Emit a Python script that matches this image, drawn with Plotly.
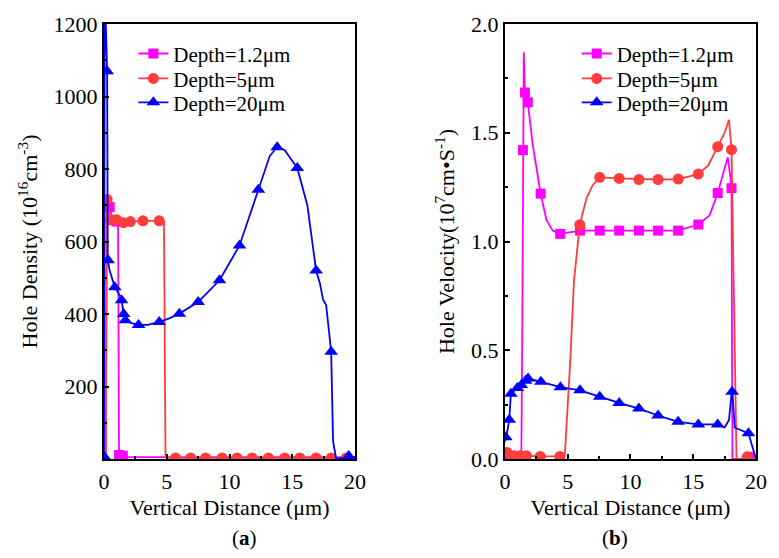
import plotly.graph_objects as go
from plotly.subplots import make_subplots

FONT = "Liberation Serif"
PINK = "#FF00FF"
RED = "#FF3B3B"
BLUE = "#0000FF"

series_names = ["Depth=1.2\u03bcm", "Depth=5\u03bcm", "Depth=20\u03bcm"]

# ---------------- (a) Hole density ----------------
dens_pink_line_x = [0.15, 0.22, 0.3, 0.45, 0.7, 1.0, 1.12, 1.2, 1.3, 1.6, 3, 20]
dens_pink_line_y = [5, 705, 698, 690, 665, 655, 652, 10, 9, 6, 5, 5]
dens_pink_mark_x = [0.45, 1.0, 1.2, 1.5]
dens_pink_mark_y = [695, 655, 11, 9]

dens_red_line_x = [0.15, 0.22, 0.3, 0.5, 1.0, 1.55, 2.1, 3.1, 4.4, 4.78, 4.9, 5.2, 20]
dens_red_line_y = [5, 720, 690, 662, 660, 652, 655, 657, 657, 656, 5, 3, 3]
dens_red_mark_x = [0.25, 0.5, 1.0, 1.55, 2.1, 3.1, 4.4, 5.7, 6.9, 8.1, 9.4, 10.6,
                   11.8, 13.1, 14.4, 15.6, 16.9, 18.1, 19.3]
dens_red_mark_y = [716, 660, 660, 652, 655, 657, 657, 3, 3, 3, 3, 3,
                   3, 3, 3, 3, 3, 3, 3]

dens_blue_line_x = [0, 0.06, 0.1, 0.25, 0.3, 0.45, 0.86, 1.2, 1.4, 1.57, 1.7, 2.2,
                    2.75, 3.5, 4.4, 5.2, 6.0, 7.5, 9.2, 10.8, 12.3, 13.2, 13.8,
                    14.4, 15.4, 16.2, 16.9, 17.2, 17.45, 17.7, 18.1, 18.25, 18.5,
                    19.5, 20]
dens_blue_line_y = [5, 1300, 1250, 1070, 548, 520, 474, 455, 438, 400, 383, 375,
                    370, 370, 378, 388, 401, 433, 493, 589, 743, 835, 862,
                    852, 803, 700, 520, 485, 440, 425, 296, 49, 0,
                    5, 5]
dens_blue_mark_x = [0.05, 0.25, 0.33, 0.86, 1.4, 1.57, 1.7, 2.75, 4.4, 6.0, 7.5,
                    9.2, 10.8, 12.3, 13.8, 15.4, 16.9, 18.1, 19.5]
dens_blue_mark_y = [5, 1070, 548, 474, 438, 400, 383, 370, 378, 401, 433,
                    493, 589, 743, 860, 803, 520, 296, 8]

# ---------------- (b) Hole velocity ----------------
vel_pink_line_x = [0, 1.3, 1.37, 1.43, 1.5, 1.59, 1.82, 2.2, 2.84, 3.3, 3.8, 4.4,
                   6.0, 9.1, 12.2, 13.8, 15.4, 16.3, 16.95, 17.4, 17.75, 17.95,
                   18.05, 18.12, 20]
vel_pink_line_y = [0, 0, 0.5, 1.42, 1.87, 1.685, 1.64, 1.45, 1.22, 1.10, 1.05, 1.035,
                   1.05, 1.05, 1.05, 1.05, 1.078, 1.12, 1.223, 1.32, 1.387, 1.30,
                   1.245, 0, 0]
vel_pink_mark_x = [1.43, 1.59, 1.82, 2.84, 4.4, 5.98, 7.55, 9.1, 10.67, 12.2, 13.8,
                   15.4, 16.95, 18.05, 19.5]
vel_pink_mark_y = [1.42, 1.685, 1.64, 1.22, 1.035, 1.05, 1.05, 1.05, 1.05, 1.05, 1.05,
                   1.078, 1.223, 1.245, 0.01]

vel_red_line_x = [0, 0.5, 1.0, 2.0, 3.0, 4.4, 4.76, 5.2, 5.5, 5.96, 6.5, 7.0, 7.55,
                  9.1, 12.2, 13.8, 15.4, 16.2, 16.95, 17.5, 17.85, 18.05, 18.45, 20]
vel_red_line_y = [0.03, 0.02, 0.015, 0.012, 0.012, 0.012, 0.01, 0.45, 0.82, 1.077,
                  1.2, 1.26, 1.295, 1.29, 1.285, 1.287, 1.31, 1.35, 1.436, 1.50,
                  1.56, 1.422, 0, 0]
vel_red_mark_x = [0.15, 0.7, 1.2, 1.7, 2.8, 4.37, 5.96, 7.55, 9.1, 10.67, 12.2, 13.8,
                  15.4, 16.95, 18.05, 19.3]
vel_red_mark_y = [0.03, 0.015, 0.015, 0.015, 0.012, 0.012, 1.077, 1.295, 1.29, 1.285,
                  1.285, 1.287, 1.31, 1.436, 1.422, 0.01]

vel_blue_line_x = [0, 0.1, 0.34, 0.42, 0.47, 0.98, 1.3, 1.64, 1.84, 2.86, 4.42, 5.98,
                   7.55, 9.1, 10.67, 12.2, 13.8, 15.4, 16.95, 17.5, 17.85, 18.1,
                   18.3, 19.0, 19.4, 20]
vel_blue_line_y = [0.08, 0.10, 0.18, 0.26, 0.30, 0.326, 0.34, 0.36, 0.37, 0.355, 0.33,
                   0.316, 0.286, 0.258, 0.232, 0.20, 0.171, 0.159, 0.159, 0.145,
                   0.18, 0.33, 0.145, 0.13, 0.118, 0]
vel_blue_mark_x = [0.07, 0.34, 0.47, 0.98, 1.3, 1.64, 1.84, 2.86, 4.42, 5.98, 7.55,
                   9.1, 10.67, 12.2, 13.8, 15.4, 16.95, 18.1, 19.4]
vel_blue_mark_y = [0.10, 0.18, 0.30, 0.326, 0.34, 0.36, 0.37, 0.355, 0.33, 0.316,
                   0.286, 0.258, 0.232, 0.20, 0.171, 0.159, 0.159, 0.309, 0.118]

x_ticks = [0, 5, 10, 15, 20]
dens_ticks = [200, 400, 600, 800, 1000, 1200]
vel_ticks = [0.0, 0.5, 1.0, 1.5, 2.0]
vel_tick_text = ["0.0", "0.5", "1.0", "1.5", "2.0"]

colors = [PINK, RED, BLUE]
symbols = ["square", "circle", "triangle-up"]
msizes = [10, 11, 12]

fig = make_subplots(rows=1, cols=2, horizontal_spacing=0.23)

panels = [
    (1, ["legend", "legend2", "legend3"], [
        (dens_pink_line_x, dens_pink_line_y, dens_pink_mark_x, dens_pink_mark_y),
        (dens_red_line_x, dens_red_line_y, dens_red_mark_x, dens_red_mark_y),
        (dens_blue_line_x, dens_blue_line_y, dens_blue_mark_x, dens_blue_mark_y),
    ]),
    (2, ["legend4", "legend5", "legend6"], [
        (vel_pink_line_x, vel_pink_line_y, vel_pink_mark_x, vel_pink_mark_y),
        (vel_red_line_x, vel_red_line_y, vel_red_mark_x, vel_red_mark_y),
        (vel_blue_line_x, vel_blue_line_y, vel_blue_mark_x, vel_blue_mark_y),
    ]),
]

for col, legs, data in panels:
    for i, (lx, ly, mx, my) in enumerate(data):
        fig.add_trace(go.Scatter(x=lx, y=ly, mode="lines",
                                 line=dict(color=colors[i], width=1.8),
                                 showlegend=False, hoverinfo="skip"),
                      row=1, col=col)
        fig.add_trace(go.Scatter(x=mx, y=my, mode="markers",
                                 marker=dict(color=colors[i], symbol=symbols[i],
                                             size=msizes[i], line=dict(width=0)),
                                 showlegend=False),
                      row=1, col=col)
    for i in range(3):
        fig.add_trace(go.Scatter(x=[None], y=[None], mode="lines+markers",
                                 name=series_names[i], legend=legs[i],
                                 line=dict(color=colors[i], width=1.8),
                                 marker=dict(color=colors[i], symbol=symbols[i],
                                             size=msizes[i], line=dict(width=0))),
                      row=1, col=col)

axis_common = dict(showline=True, linecolor="black", linewidth=2, mirror=True,
                   ticks="inside", ticklen=5, tickwidth=1.5, tickcolor="black",
                   showgrid=False, zeroline=False,
                   tickfont=dict(family=FONT, size=22, color="black"),
                   minor=dict(ticks="inside", ticklen=3, tickwidth=1.5,
                              tickcolor="black"))

for col in (1, 2):
    fig.update_xaxes(range=[0, 20], tickvals=x_ticks, ticklabelstandoff=2,
                     title=dict(text="Vertical Distance (\u03bcm)",
                                font=dict(family=FONT, size=22, color="black"),
                                standoff=6),
                     minor_dtick=2.5, row=1, col=col, **axis_common)

fig.update_yaxes(range=[0, 1200], tickvals=dens_ticks, minor_dtick=100,
                 title=dict(text="Hole Density (10<sup>16</sup>cm<sup>-3</sup>)",
                            font=dict(family=FONT, size=22, color="black"),
                            standoff=10),
                 row=1, col=1, **axis_common)
fig.update_yaxes(range=[0, 2.0], tickvals=vel_ticks, ticktext=vel_tick_text,
                 minor_dtick=0.25,
                 title=dict(text="Hole Velocity(10<sup>7</sup>cm\u2022S<sup>-1</sup>)",
                            font=dict(family=FONT, size=22, color="black"),
                            standoff=10),
                 row=1, col=2, **axis_common)

row_y = [0.9314, 0.8741, 0.8192]
legend_layout = {}
for k, name in enumerate(["legend", "legend2", "legend3",
                          "legend4", "legend5", "legend6"]):
    legend_layout[name] = dict(
        x=0.045 if k < 3 else 0.725, y=row_y[k % 3],
        xanchor="left", yanchor="middle",
        bgcolor="rgba(0,0,0,0)",
        font=dict(family=FONT, size=21, color="black"))

fig.update_layout(
    width=779, height=558,
    font=dict(family=FONT, color="black"),
    margin=dict(l=104, r=13, t=22, b=99),
    paper_bgcolor="white", plot_bgcolor="white",
    xaxis=dict(domain=[0, 0.385]),
    xaxis2=dict(domain=[0.615, 1.0]),
    annotations=[
        dict(text="(<b>a</b>)", x=0.1925, y=-0.182, xref="paper", yref="paper",
             yanchor="middle", showarrow=False,
             font=dict(family=FONT, size=21, color="black")),
        dict(text="(<b>b</b>)", x=0.8075, y=-0.182, xref="paper", yref="paper",
             yanchor="middle", showarrow=False,
             font=dict(family=FONT, size=21, color="black")),
    ],
    **legend_layout,
)

fig.write_html("out.html")
